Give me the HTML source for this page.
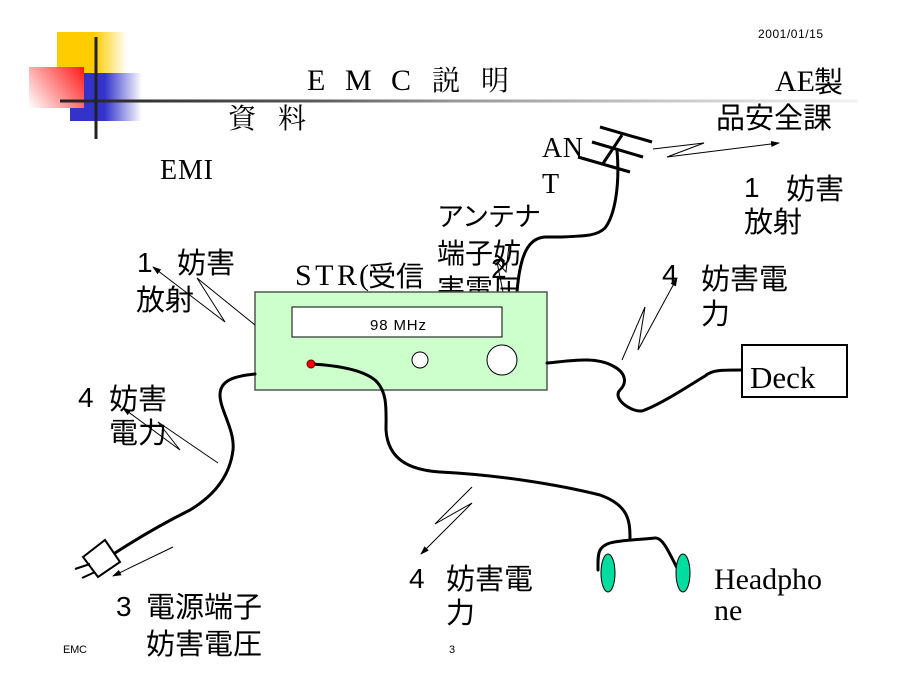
<!DOCTYPE html>
<html><head><meta charset="utf-8"><style>
html,body{margin:0;padding:0;background:#fff;}
svg{display:block;}
.s{font-family:"Liberation Sans","Noto Sans CJK JP",sans-serif;}
.r{font-family:"Liberation Serif","Noto Serif CJK JP",serif;}
.cj{font-family:"Noto Sans CJK JP",sans-serif;}
</style></head><body>
<svg width="900" height="675" viewBox="0 0 900 675" xmlns="http://www.w3.org/2000/svg">
<defs>
<linearGradient id="gy" x1="57" y1="0" x2="127" y2="0" gradientUnits="userSpaceOnUse">
<stop offset="0" stop-color="#FFCC00"/><stop offset="0.54" stop-color="#FFCC00"/><stop offset="1" stop-color="#FFFFFF"/></linearGradient>
<linearGradient id="gb" x1="70" y1="0" x2="142" y2="0" gradientUnits="userSpaceOnUse">
<stop offset="0" stop-color="#3333CC"/><stop offset="0.48" stop-color="#3333CC"/><stop offset="1" stop-color="#FFFFFF"/></linearGradient>
<linearGradient id="gr" x1="84" y1="67" x2="29" y2="108" gradientUnits="userSpaceOnUse">
<stop offset="0" stop-color="#FF1A1A"/><stop offset="1" stop-color="#FFFFFF"/></linearGradient>
<linearGradient id="gl" x1="60" y1="0" x2="857" y2="0" gradientUnits="userSpaceOnUse">
<stop offset="0" stop-color="#222"/><stop offset="0.3" stop-color="#555"/><stop offset="0.5" stop-color="#999"/><stop offset="1" stop-color="#f2f2f2"/></linearGradient>
<marker id="ah" markerWidth="9" markerHeight="8" refX="8" refY="4" orient="auto" markerUnits="userSpaceOnUse">
<path d="M0,1 L9,4 L0,7 z" fill="#000"/></marker>
</defs>

<!-- logo -->
<rect x="57" y="32" width="70" height="42" fill="url(#gy)"/>
<rect x="70" y="73" width="72" height="48" fill="url(#gb)"/>
<rect x="29" y="67" width="55" height="41" fill="url(#gr)"/>
<rect x="60" y="99.5" width="797" height="3" fill="url(#gl)"/>
<rect x="94.5" y="37" width="3" height="102" fill="#222"/>

<!-- header text -->
<text class="s" x="758" y="38" font-size="12" textLength="65">2001/01/15</text>
<g class="r" font-size="30">
<text x="307" y="90">E</text><text x="345" y="90">M</text><text x="391" y="90">C</text>
<text x="432" y="90" font-size="28">説</text><text x="481" y="90" font-size="28">明</text>
<text x="228" y="128" font-size="28">資</text><text x="278" y="128" font-size="28">料</text>
</g>
<text class="r" x="160" y="179" font-size="28" textLength="53">EMI</text>
<text class="r" x="775" y="91" font-size="30">AE</text>
<text class="cj" x="814" y="92" font-size="29">製</text>
<text class="cj" x="716" y="128" font-size="29">品安全課</text>
<text class="r" x="542" y="157" font-size="28" textLength="41">AN</text>
<text class="r" x="542" y="193" font-size="28">T</text>

<g class="s" font-size="28">
<!-- right 1 label -->
<text x="744" y="197">1</text>
<text class="cj" x="786" y="199" font-size="29">妨害</text>
<text class="cj" x="744" y="232" font-size="29">放射</text>
<!-- antenna label -->
<text class="cj" x="437" y="226" font-size="27" textLength="104">アンテナ</text>
<text class="cj" x="437" y="263" font-size="28">端子妨</text>
<text class="cj" x="437" y="299" font-size="28">害電圧</text>
<text x="491" y="278" font-size="28">2</text>
<!-- left 1 -->
<text x="137" y="272">1</text>
<text class="cj" x="177" y="273" font-size="29">妨害</text>
<text class="cj" x="136" y="310" font-size="29">放射</text>
<!-- right 4 -->
<text x="662" y="284">4</text>
<text class="cj" x="701" y="289" font-size="29">妨害電</text>
<text class="cj" x="701" y="324" font-size="29">力</text>
<!-- left 4 -->
<text x="78" y="407">4</text>
<text class="cj" x="109" y="409" font-size="29">妨害</text>
<text class="cj" x="109" y="443" font-size="29">電力</text>
<!-- lower 4 -->
<text x="409" y="588">4</text>
<text class="cj" x="446" y="589" font-size="29">妨害電</text>
<text class="cj" x="446" y="623" font-size="29">力</text>
<!-- 3 -->
<text x="116" y="616">3</text>
<text class="cj" x="146" y="617" font-size="29">電源端子</text>
<text class="cj" x="146" y="654" font-size="29">妨害電圧</text>
</g>
<text class="r" x="295" y="285" font-size="30" textLength="62">STR</text>
<text class="r" x="359" y="285" font-size="30">(</text>
<text class="cj" x="368" y="286" font-size="28">受信</text>

<!-- antenna -->
<g stroke="#000" stroke-width="3" fill="none" stroke-linecap="butt">
<line x1="600" y1="127" x2="652" y2="142"/>
<line x1="592" y1="142" x2="643" y2="157"/>
<line x1="578" y1="157" x2="630" y2="172"/>
<line x1="622" y1="135" x2="602" y2="165"/>
<path d="M617,150 C620,185 615,215 605,228 C597,236 585,236 560,237 L545,237 C528,238 520,255 517,292"/>
</g>
<g stroke="#000" stroke-width="1" fill="none">
<polyline points="503,292 497,262 506,272 509,245"/>
</g>

<!-- receiver box -->
<rect x="255" y="292" width="292" height="98" fill="#CCFFCC" stroke="#555" stroke-width="1.5"/>
<rect x="292" y="307" width="210" height="30" fill="#fff" stroke="#000" stroke-width="1"/>
<text class="s" x="370" y="330" font-size="15" textLength="56">98 MHz</text>
<circle cx="420" cy="360" r="8" fill="#fff" stroke="#000" stroke-width="1"/>
<circle cx="502" cy="360" r="15" fill="#fff" stroke="#000" stroke-width="1"/>

<!-- cables -->
<g stroke="#000" stroke-width="3" fill="none" stroke-linecap="round" stroke-linejoin="round">
<path d="M547,363 C570,361 595,356 613,366 C625,372 628,382 620,390 C612,398 630,412 642,411 C660,405 690,385 705,376 C712,370 720,370 742,370"/>
<path d="M255,374 C235,376 220,380 220,395 C220,410 235,430 233,450 C230,475 215,495 190,510 C160,525 135,540 115,553"/>
<path d="M311,364 C330,365 360,368 375,380 C388,392 386,410 386,430 C388,460 410,470 440,472 C500,475 560,485 600,495 C628,505 630,520 630,538"/>
<path d="M598,570 C598,555 597,547 610,543 C620,540 635,540 655,538 C662,537 668,550 677,568"/>
</g>
<circle cx="311" cy="364" r="4" fill="#FF0000" stroke="#600" stroke-width="1"/>

<!-- plug -->
<polygon points="83,557 105,540 120,562 98,577" fill="#fff" stroke="#000" stroke-width="2"/>
<line x1="75" y1="569" x2="90" y2="564" stroke="#000" stroke-width="2"/>
<line x1="82" y1="578" x2="95" y2="572" stroke="#000" stroke-width="2"/>

<!-- ear cups -->
<ellipse cx="608" cy="573" rx="7" ry="19" fill="#00DDA0" stroke="#000" stroke-width="1"/>
<ellipse cx="683" cy="573" rx="7" ry="19" fill="#00DDA0" stroke="#000" stroke-width="1"/>

<!-- Deck -->
<rect x="742" y="345" width="105" height="52" fill="#fff" stroke="#000" stroke-width="2"/>
<text class="r" x="750" y="388" font-size="31">Deck</text>

<!-- Headphone -->
<text class="r" x="714" y="589" font-size="30" textLength="108">Headpho</text>
<text class="r" x="714" y="620" font-size="30">ne</text>

<!-- lightning arrows -->
<g stroke="#000" stroke-width="1" fill="none" stroke-linejoin="miter">
<polyline points="653,149 704,143 667,157 779,143" marker-end="url(#ah)"/>
<polyline points="255,325 197,278 225,322 153,267" marker-end="url(#ah)"/>
<polyline points="218,463 158,422 180,450 123,408" marker-end="url(#ah)"/>
<polyline points="622,360 645,307 638,350 677,278" marker-end="url(#ah)"/>
<polyline points="472,487 435,524 472,503 421,554" marker-end="url(#ah)"/>
<line x1="173" y1="547" x2="113" y2="576" marker-end="url(#ah)"/>
</g>

<!-- footer -->
<text class="s" x="63" y="653" font-size="11" textLength="24">EMC</text>
<text class="s" x="449" y="653" font-size="11">3</text>
</svg>
</body></html>
